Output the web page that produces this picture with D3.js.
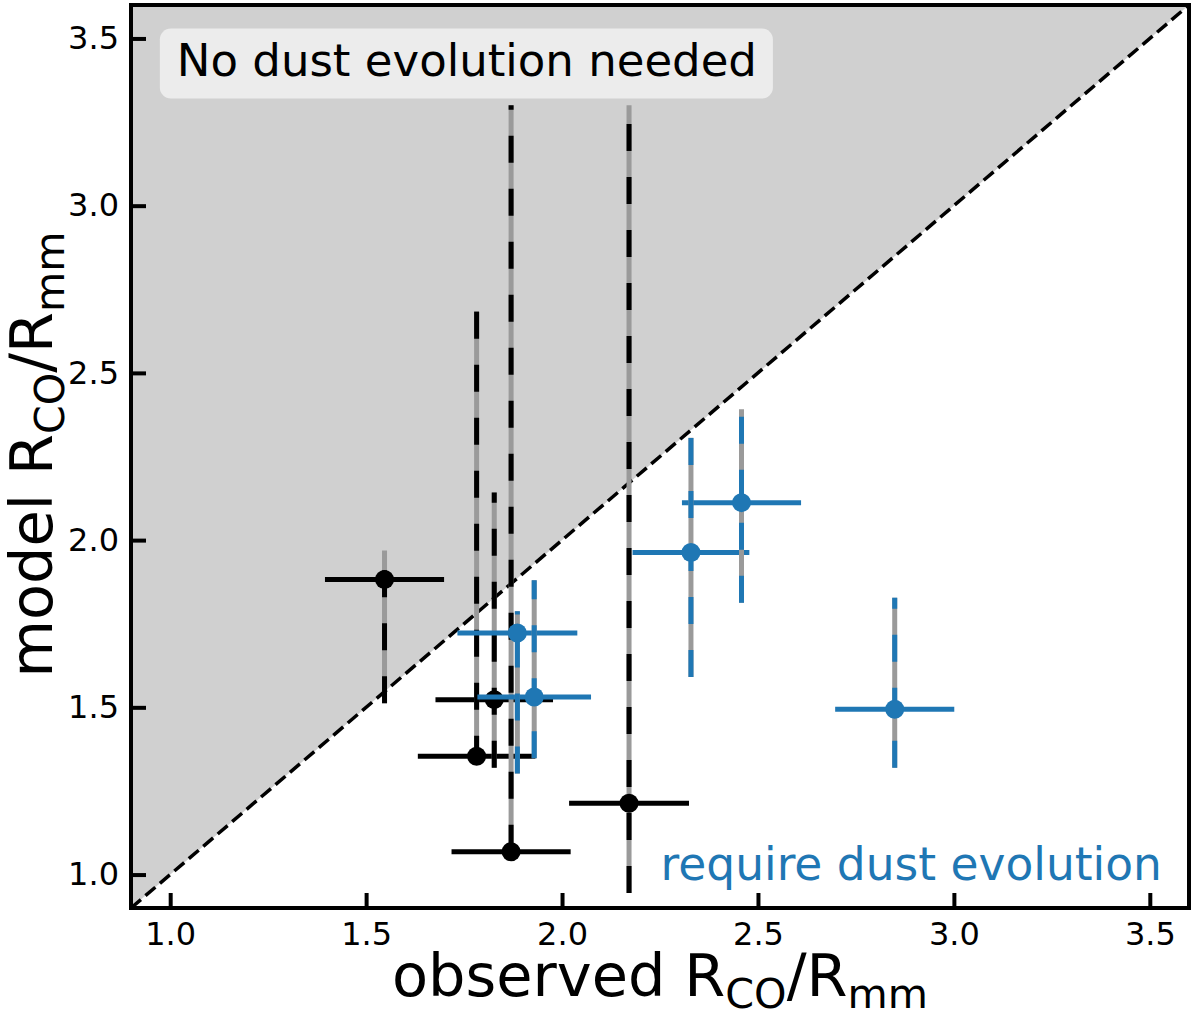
<!DOCTYPE html>
<html>
<head>
<meta charset="utf-8">
<script src="https://cdn.jsdelivr.net/npm/d3@7/dist/d3.min.js"></script>
<style>
  body { margin: 0; background: #fff; }
  text { font-family: "DejaVu Sans", sans-serif; }
</style>
</head>
<body>
<div id="chart"></div>
<script>
// black points: sources that sit on/above the 1:1 line within errors
const blackObs  = [1.547, 1.782, 1.827, 1.870, 2.171];
const blackMod  = [1.882, 1.354, 1.523, 1.068, 1.213];
const blackXerr = [0.152, 0.150, 0.150, 0.152, 0.153];
const blackYlo  = [0.370, 0.020, 0.204, 0.000, 0.268];
const blackYhi  = [0.087, 1.331, 0.619, 2.232, 2.087];

// blue points: require dust evolution
const blueObs  = [1.886, 1.929, 2.329, 2.458, 2.849];
const blueMod  = [1.722, 1.531, 1.963, 2.112, 1.494];
const blueXerr = [0.153, 0.145, 0.149, 0.152, 0.152];
const blueYlo  = [0.420, 0.183, 0.372, 0.299, 0.175];
const blueYhi  = [0.065, 0.349, 0.343, 0.279, 0.334];

const ticks = [1.0, 1.5, 2.0, 2.5, 3.0, 3.5];
const lims = [0.9, 3.6];

const W = 1200, H = 1016;
const margin = {left: 131, right: 11, top: 5, bottom: 108};
const width = W - margin.left - margin.right;
const height = H - margin.top - margin.bottom;

const blue = "#1f77b4";
const grayBar = "#9a9a9a";

const svg = d3.select("#chart").append("svg")
    .attr("width", W).attr("height", H);

const g = svg.append("g")
    .attr("transform", "translate(" + margin.left + "," + margin.top + ")");

const x = d3.scaleLinear().domain(lims).range([0, width]);
const y = d3.scaleLinear().domain(lims).range([height, 0]);

g.append("clipPath").attr("id", "clip")
  .append("rect").attr("width", width).attr("height", height);

const plot = g.append("g").attr("clip-path", "url(#clip)");

// shaded region above 1:1
plot.append("path")
    .attr("d", d3.line()([[x(lims[0]), y(lims[0])], [x(lims[0]), y(lims[1])], [x(lims[1]), y(lims[1])]]) + "Z")
    .attr("fill", "#d0d0d0");

// 1:1 line
plot.append("line")
    .attr("x1", x(lims[0])).attr("y1", y(lims[0]))
    .attr("x2", x(lims[1])).attr("y2", y(lims[1]))
    .attr("stroke", "#000").attr("stroke-width", 3.5)
    .attr("stroke-dasharray", "13,6");

// label box top-left
const topLabel = g.append("g");
const tl = topLabel.append("text")
    .attr("x", x(1.017)).attr("y", y(3.389))
    .attr("font-size", 45).attr("fill", "#000")
    .text("No dust evolution needed");
const bb = tl.node().getBBox();
topLabel.insert("rect", "text")
    .attr("x", bb.x - 17).attr("y", y(3.389) - 47)
    .attr("width", bb.width + 33).attr("height", 70)
    .attr("rx", 11).attr("fill", "#ececec");

function drawSet(obs, mod, xerr, ylo, yhi, color) {
  const data = obs.map((d, i) => ({x: d, y: mod[i], xe: xerr[i], lo: ylo[i], hi: yhi[i]}));
  const s = plot.append("g");

  s.selectAll(".xbar").data(data).enter().append("line")
      .attr("x1", d => x(d.x - d.xe)).attr("x2", d => x(d.x + d.xe))
      .attr("y1", d => y(d.y)).attr("y2", d => y(d.y))
      .attr("stroke", color).attr("stroke-width", 5);

  s.selectAll(".ygray").data(data).enter().append("line")
      .attr("x1", d => x(d.x)).attr("x2", d => x(d.x))
      .attr("y1", d => y(d.y - d.lo)).attr("y2", d => y(d.y + d.hi))
      .attr("stroke", grayBar).attr("stroke-width", 5);

  s.selectAll(".ydash").data(data).enter().append("line")
      .attr("x1", d => x(d.x)).attr("x2", d => x(d.x))
      .attr("y1", d => y(d.y - d.lo)).attr("y2", d => y(d.y + d.hi))
      .attr("stroke", color).attr("stroke-width", 5)
      .attr("stroke-dasharray", "27,26");

  s.selectAll("circle").data(data).enter().append("circle")
      .attr("cx", d => x(d.x)).attr("cy", d => y(d.y))
      .attr("r", 9.5).attr("fill", color);
}

drawSet(blackObs, blackMod, blackXerr, blackYlo, blackYhi, "#000");
drawSet(blueObs, blueMod, blueXerr, blueYlo, blueYhi, blue);

g.append("text")
    .attr("x", x(3.531)).attr("y", y(0.984))
    .attr("text-anchor", "end")
    .attr("font-size", 45.5).attr("fill", blue)
    .text("require dust evolution");

// axes, ticks pointing inwards
const xAxis = g.append("g")
    .attr("transform", "translate(0," + height + ")")
    .call(d3.axisBottom(x).tickValues(ticks).tickFormat(d3.format(".1f"))
          .tickSize(-15).tickPadding(14));
const yAxis = g.append("g")
    .call(d3.axisLeft(y).tickValues(ticks).tickFormat(d3.format(".1f"))
          .tickSize(-15).tickPadding(12));

[xAxis, yAxis].forEach(a => {
  a.select(".domain").remove();
  a.selectAll(".tick line").attr("stroke", "#000").attr("stroke-width", 4);
  a.selectAll(".tick text").attr("font-size", 32).attr("fill", "#000")
   .attr("font-family", "DejaVu Sans, sans-serif");
});

// frame
g.append("rect")
    .attr("width", width).attr("height", height)
    .attr("fill", "none").attr("stroke", "#000").attr("stroke-width", 4);

// axis labels with subscripts
function label(sel, prefix) {
  sel.append("tspan").text(prefix + "R");
  sel.append("tspan").attr("font-size", "0.7em").attr("dy", 12).text("CO");
  sel.append("tspan").attr("dy", -12).text("/R");
  sel.append("tspan").attr("font-size", "0.7em").attr("dy", 12).text("mm");
}

const xl = svg.append("text")
    .attr("x", margin.left + width / 2).attr("y", 996)
    .attr("text-anchor", "middle").attr("font-size", 59).attr("fill", "#000");
label(xl, "observed ");

const yl = svg.append("text")
    .attr("transform", "translate(52," + (margin.top + height / 2 - 2) + ") rotate(-90)")
    .attr("text-anchor", "middle").attr("font-size", 59).attr("fill", "#000");
label(yl, "model ");
</script>
</body>
</html>
